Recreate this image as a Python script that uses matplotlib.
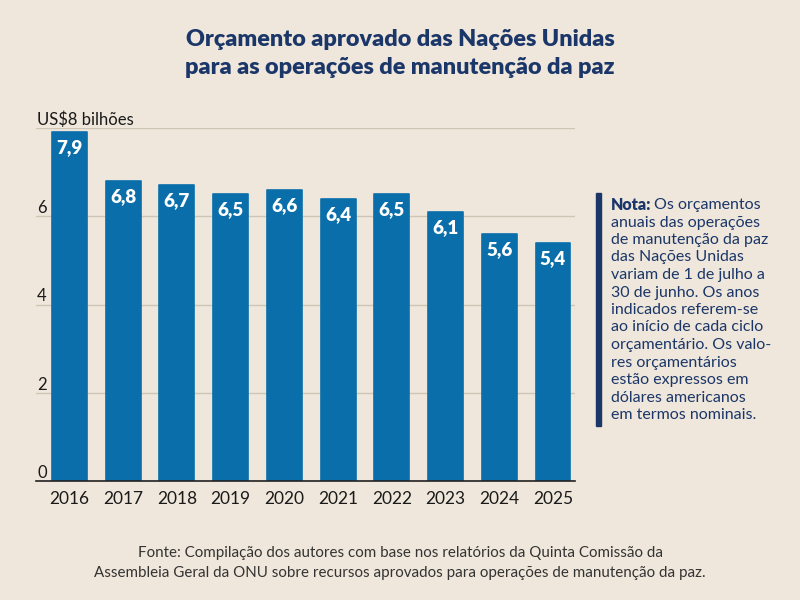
import matplotlib
matplotlib.use("Agg")
import matplotlib.pyplot as plt
import matplotlib.transforms as mtransforms

years = ["2016", "2017", "2018", "2019", "2020", "2021", "2022", "2023", "2024", "2025"]
values = [7.9, 6.8, 6.7, 6.5, 6.6, 6.4, 6.5, 6.1, 5.6, 5.4]
labels = ["7,9", "6,8", "6,7", "6,5", "6,6", "6,4", "6,5", "6,1", "5,6", "5,4"]
yticks = [0, 2, 4, 6, 8]
ytick_labels = ["0", "2", "4", "6", "US$8 bilhões"]

BG = "#EFE7DB"
BAR = "#0A6EAA"
NAVY = "#1B3668"
FONT = ["Lato", "DejaVu Sans"]
plt.rcParams["font.family"] = FONT

fig = plt.figure(figsize=(8, 6), dpi=100, facecolor=BG)
ax = fig.add_axes([36/800, 1-481/600, (575-36)/800, (481-128)/600])
ax.set_facecolor("none")

x = list(range(len(years)))
ax.bar(x, values, width=0.65, color=BAR, edgecolor=BAR, linewidth=1.2,
       joinstyle="round", zorder=3)
ax.set_xlim(-0.624, 9.41)
ax.set_ylim(0, 8)

for s in ["top", "right", "left"]:
    ax.spines[s].set_visible(False)
ax.spines["bottom"].set_color("#222222")
ax.spines["bottom"].set_linewidth(1.2)
ax.spines["bottom"].set_zorder(4)

ax.set_yticks(yticks)
ax.set_yticklabels([])
ax.tick_params(axis="y", length=0)
ax.yaxis.grid(True, color="#CFC5B6", linewidth=1)
ax.set_axisbelow(True)

trans = mtransforms.blended_transform_factory(ax.transAxes, ax.transData)
for t, lab in zip(yticks, ytick_labels):
    ax.text(0.002, t, lab, transform=trans, ha="left", va="bottom",
            fontsize=12, color="#1a1a1a")

ax.set_xticks(x)
ax.set_xticklabels(years, fontsize=12.5, color="#1a1a1a")
ax.tick_params(axis="x", length=0, pad=7)

for xi, v, lab in zip(x, values, labels):
    ax.text(xi, v - 0.16, lab, ha="center", va="top", color="white",
            fontsize=13.5, fontweight="heavy", zorder=5)

fig.text(0.5, 1-40/600, "Orçamento aprovado das Nações Unidas", ha="center", va="center",
         fontsize=16.8, fontweight="heavy", color=NAVY)
fig.text(0.5, 1-67/600, "para as operações de manutenção da paz", ha="center", va="center",
         fontsize=16.8, fontweight="heavy", color=NAVY)

# note
fig.patches.append(plt.Rectangle((596/800, 1-426/600), 5/800, (426-193)/600,
                                 transform=fig.transFigure, color=NAVY, figure=fig))
note_lines = ["Os orçamentos", "anuais das operações", "de manutenção da paz",
              "das Nações Unidas", "variam de 1 de julho a", "30 de junho. Os anos",
              "indicados referem-se", "ao início de cada ciclo", "orçamentário. Os valo-",
              "res orçamentários", "estão expressos em", "dólares americanos",
              "em termos nominais."]
y0 = 205
step = 17.5
t1 = fig.text(611/800, 1-y0/600, "Nota:", ha="left", va="center", fontsize=11.5,
              fontweight="heavy", color=NAVY)
fig.canvas.draw()
bb = t1.get_window_extent()
fig.text((bb.x1 + 2)/800, 1-y0/600, note_lines[0], ha="left", va="center",
         fontsize=11.5, color=NAVY)
for i, line in enumerate(note_lines[1:], start=1):
    fig.text(611/800, 1-(y0 + i*step)/600, line, ha="left", va="center",
             fontsize=11.5, color=NAVY)

fig.text(0.5, 1-553/600, "Fonte: Compilação dos autores com base nos relatórios da Quinta Comissão da",
         ha="center", va="center", fontsize=10.9, color="#333333")
fig.text(0.5, 1-573/600, "Assembleia Geral da ONU sobre recursos aprovados para operações de manutenção da paz.",
         ha="center", va="center", fontsize=10.9, color="#333333")

fig.savefig("out.png", dpi=100, facecolor=BG)
